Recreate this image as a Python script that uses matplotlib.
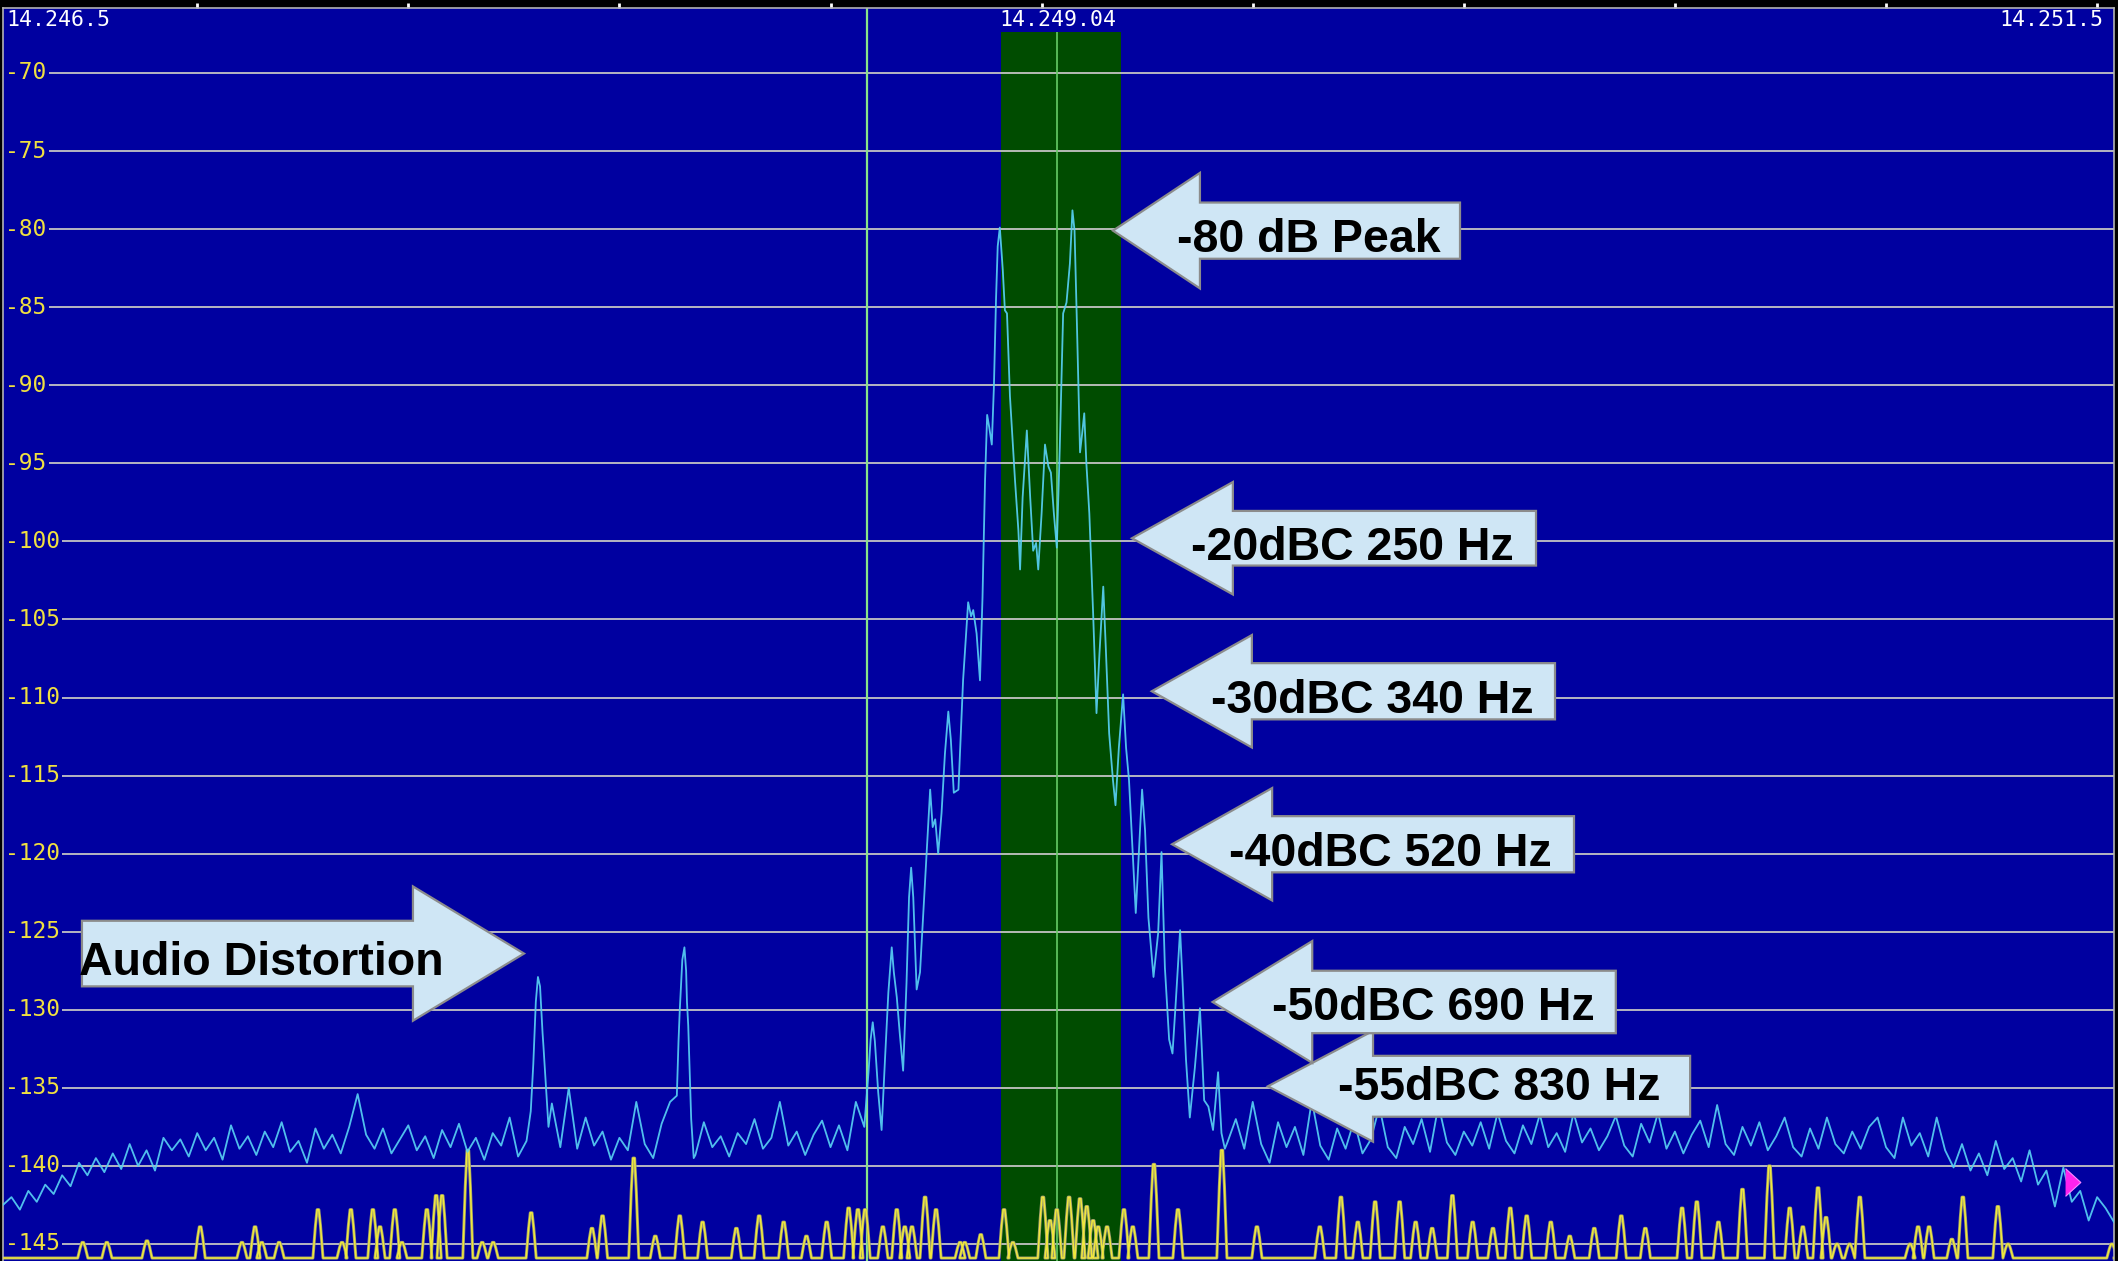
import matplotlib
matplotlib.use("Agg")
import matplotlib.pyplot as plt
from matplotlib.patches import Polygon
import numpy as np

# display span: 14.246.5 .. 14.251.5 kHz, x data is Hz above the left edge
span_hz = 5000
db_top, db_bottom = -65.84, -146.09
grid_db = list(range(-70, -150, -5))
tick_hz = list(range(460, 5000, 500))
edge_labels = ["14.246.5", "14.251.5"]
center_label = "14.249.04"
center_label_hz = 2499

cursor_hz = 2046
band_lo_hz, band_hi_hz = 2364, 2648
band_center_hz = 2496
band_top_db = -67.4
marker_hz, marker_db = 4900, -141.0

# noise floor left of the signal, one value every 20 Hz from 0 Hz
floor_step = 20
left_floor_db = [
    -142.5, -142.0, -142.8, -141.6, -142.3, -141.2, -141.8, -140.6, -141.3, -139.8,
    -140.6, -139.5, -140.4, -139.2, -140.2, -138.6, -140.0, -139.0, -140.3, -138.2,
    -139.0, -138.3, -139.4, -137.9, -139.0, -138.2, -139.6, -137.4, -138.9, -138.1,
    -139.3, -137.8, -138.8, -137.2, -139.1, -138.4, -139.8, -137.6, -138.9, -138.0,
    -139.2, -137.5, -135.4, -138.0, -138.9, -137.6, -139.2, -138.3, -137.4, -139.0,
    -138.1, -139.5, -137.7, -138.8, -137.3, -139.1, -138.2, -139.6, -137.9, -138.7,
    -136.9, -139.4, -138.4, -130.8, -132.3, -136.0, -138.8, -135.0, -138.9, -136.9,
    -138.7, -137.8, -139.6, -138.2, -139.0, -135.9, -138.6, -139.5, -137.3, -135.9,
    -132.0, -129.5, -139.3, -137.2, -138.8, -138.1, -139.4, -137.9, -138.6, -137.0,
    -138.9, -138.2, -135.9, -138.7, -137.8, -139.3, -138.0, -137.1, -138.8, -137.4,
    -139.0, -135.9, -137.5,
]

# noise floor right of the signal, every 20 Hz from 2900 Hz
right_floor_start = 2900
right_floor_db = [
    -138.5, -137.0, -138.9, -135.9, -138.6, -139.8, -137.2, -138.8, -137.5, -139.3,
    -135.8, -138.7, -139.6, -137.6, -138.9, -137.1, -139.2, -138.3, -136.2, -138.8,
    -139.5, -137.5, -138.6, -137.0, -139.1, -136.1, -138.5, -139.3, -137.8, -138.7,
    -137.2, -138.9, -136.6, -138.4, -139.2, -137.4, -138.6, -136.7, -138.8, -137.9,
    -139.1, -136.6, -138.5, -137.6, -139.0, -138.1, -136.8, -138.7, -139.4, -137.3,
    -138.5, -136.6, -138.9, -137.8, -139.2, -138.0, -137.1, -138.8, -136.1, -138.6,
    -139.3, -137.5, -138.7, -137.2, -139.0, -138.1, -136.9, -138.8, -139.4, -137.6,
    -138.9, -136.9, -138.6, -139.2, -137.8, -138.9, -137.5, -136.9, -138.8, -139.5,
    -136.9, -138.7, -137.9, -139.4, -136.9, -139.0, -140.1, -138.6, -140.3, -139.2,
    -140.6, -138.4, -140.2, -139.5, -141.0, -139.0, -141.2, -140.3, -142.6, -140.1,
    -142.3, -141.6, -143.5, -142.0, -142.7, -143.6,
]

# audio distortion spurs
spur_hz = [1250, 1256, 1262, 1267, 1272, 1278, 1285, 1292,
           1596, 1603, 1609, 1614, 1618, 1623, 1630, 1636]
spur_db = [-136.5, -133.5, -129.5, -127.9, -128.5, -131.5, -134.5, -137.5,
           -135.5, -130.0, -126.8, -126.0, -127.5, -131.0, -137.0, -139.5]

# main signal lobe
lobe_hz = [
    2050, 2055, 2060, 2065, 2073, 2081, 2089, 2097, 2105, 2110,
    2117, 2124, 2132, 2140, 2146, 2151, 2156, 2164, 2172, 2184,
    2196, 2202, 2208, 2215, 2223, 2231, 2239, 2245, 2252, 2263,
    2274, 2286, 2293, 2298, 2306, 2314, 2320, 2326, 2331, 2336,
    2342, 2347, 2352, 2356, 2361, 2368, 2373, 2378, 2385, 2397,
    2405, 2409, 2415, 2425, 2433, 2440, 2447, 2452, 2460, 2468,
    2476, 2482, 2489, 2496, 2503, 2511, 2519, 2527, 2533, 2538,
    2543, 2551, 2556, 2561, 2566, 2573, 2582, 2590, 2597, 2606,
    2612, 2620, 2629, 2635, 2643, 2653, 2660, 2667, 2675, 2683,
    2691, 2698, 2705, 2713, 2725, 2736, 2744, 2752, 2762, 2770,
    2778, 2788, 2794, 2802, 2811, 2823, 2835, 2845, 2855, 2866,
    2878, 2886, 2894,
]
lobe_db = [
    -134.0, -131.9, -130.8, -132.0, -135.3, -137.7, -133.2, -128.9, -126.0, -127.6,
    -129.2, -131.5, -133.9, -128.3, -122.8, -120.9, -122.8, -128.7, -127.6, -121.7,
    -115.9, -118.3, -117.8, -120.0, -117.4, -113.6, -110.9, -112.7, -116.1, -115.9,
    -108.9, -103.9, -104.8, -104.4, -105.9, -108.9, -103.6, -96.1, -91.9, -92.7,
    -93.8, -90.1, -84.5, -81.1, -79.9, -82.6, -85.2, -85.4, -90.7, -96.1,
    -99.3, -101.8, -97.2, -92.9, -97.2, -100.6, -100.1, -101.8, -98.2, -93.8,
    -95.2, -95.6, -98.2, -100.4, -94.0, -85.4, -84.7, -82.2, -78.8, -80.1,
    -85.4, -94.3, -93.1, -91.8, -95.0, -98.2, -104.6, -111.0, -107.2, -102.9,
    -106.8, -112.3, -115.3, -116.9, -113.2, -109.8, -113.2, -115.3, -119.6, -123.8,
    -119.6, -115.9, -118.5, -124.1, -127.9, -125.1, -119.9, -127.3, -131.9, -132.8,
    -129.4, -124.9, -128.3, -133.2, -136.9, -133.7, -129.9, -135.8, -136.2, -137.7,
    -134.0, -137.9, -138.9,
]

# yellow trace: peak positions and heights above its floor
yellow_base_db = -145.9
yellow_peak_hz = [
    189, 246, 341, 467, 566, 597, 613, 654, 746, 803,
    824, 876, 893, 928, 945, 1004, 1026, 1040, 1101, 1135,
    1161, 1251, 1395, 1420, 1494, 1545, 1603, 1657, 1737, 1791,
    1849, 1903, 1951, 2003, 2025, 2042, 2084, 2117, 2136, 2153,
    2184, 2210, 2267, 2278, 2316, 2371, 2392, 2463, 2480, 2496,
    2525, 2551, 2567, 2582, 2594, 2615, 2655, 2676, 2726, 2783,
    2887, 2970, 3119, 3169, 3209, 3250, 3308, 3346, 3385, 3433,
    3481, 3529, 3570, 3609, 3666, 3711, 3769, 3833, 3890, 3977,
    4012, 4063, 4120, 4184, 4232, 4263, 4299, 4318, 4344, 4374,
    4398, 4517, 4536, 4562, 4616, 4642, 4725, 4749, 4995,
]
yellow_peak_db = [
    -144.9, -144.9, -144.8, -143.9, -144.9, -143.9, -144.9, -144.9, -142.8, -144.9,
    -142.8, -142.8, -143.9, -142.8, -144.9, -142.8, -141.9, -141.9, -139.0, -144.9,
    -144.9, -143.0, -144.0, -143.2, -139.5, -144.5, -143.2, -143.6, -144.0, -143.2,
    -143.6, -144.5, -143.6, -142.7, -142.8, -142.8, -143.9, -142.8, -143.9, -143.9,
    -142.0, -142.8, -144.9, -144.9, -144.4, -142.8, -144.9, -142.0, -143.5, -142.8,
    -142.0, -142.1, -142.6, -143.5, -143.9, -143.9, -142.8, -143.9, -139.9, -142.8,
    -139.0, -143.9, -143.9, -142.0, -143.6, -142.3, -142.3, -143.6, -144.0, -141.9,
    -143.6, -144.0, -142.7, -143.2, -143.6, -144.5, -144.0, -143.2, -144.0, -142.7,
    -142.3, -143.6, -141.5, -140.0, -142.7, -143.9, -141.4, -143.3, -145.0, -145.0,
    -142.0, -145.0, -143.9, -143.9, -144.7, -142.0, -142.6, -145.0, -145.0,
]

# callout arrows: text, tip (Hz, dB), head base Hz, tail Hz, head/body half height, text pos
callouts = [
    ("Audio Distortion", 1234, -126.4, 971, 187, 4.3, 2.1, 611, -127.8),
    ("-80 dB Peak", 2629, -80.1, 2835, 3451, 3.7, 1.8, 3093, -81.45),
    ("-20dBC 250 Hz", 2674, -99.8, 2913, 3631, 3.6, 1.75, 3195, -101.2),
    ("-30dBC 340 Hz", 2721, -109.6, 2958, 3676, 3.6, 1.8, 3242, -111.0),
    ("-40dBC 520 Hz", 2769, -119.4, 3006, 3721, 3.6, 1.8, 3287, -120.8),
    ("-55dBC 830 Hz", 2996, -134.9, 3245, 3996, 3.55, 1.95, 3543, -135.75),
    ("-50dBC 690 Hz", 2865, -129.5, 3101, 3820, 3.9, 2.0, 3387, -130.65),
]

bg_blue = "#0000a0"

fig = plt.figure(figsize=(21.18, 12.61), dpi=100, facecolor="black")
ax = fig.add_axes([3 / 2118, 0, 2111 / 2118, 1253 / 1261])
ax.set_facecolor(bg_blue)
ax.set_xlim(0, span_hz)
ax.set_ylim(db_bottom, db_top)

for side in ("left", "right", "top"):
    ax.spines[side].set_color("#b4b4b4")
    ax.spines[side].set_linewidth(1.2)
ax.spines["bottom"].set_visible(False)
ax.xaxis.tick_top()
ax.set_xticks(tick_hz)
ax.tick_params(axis="x", direction="out", length=3.5, width=2, color="white",
               labeltop=False, labelbottom=False)
ax.set_yticks([])

# green pass band and cursors
ax.fill_between([band_lo_hz, band_hi_hz], db_bottom, band_top_db,
                color="#004c00", lw=0, zorder=0.5)
ax.vlines(band_center_hz, db_bottom, band_top_db, color="#66cc66", lw=1.2, zorder=1.5)
ax.axvline(cursor_hz, color="#88e488", lw=1.6, zorder=1.5)

# horizontal grid and dB labels
for g in grid_db:
    ax.axhline(g, color="#c4c4c4", lw=1.3, zorder=1)
    ax.text(5, g, str(g), color="#f0e040", fontsize=16.5, family="DejaVu Sans Mono",
            ha="left", va="center", zorder=2,
            bbox=dict(boxstyle="square,pad=0.1", fc=bg_blue, ec="none"))

# frequency labels along the top
ax.text(9, -65.95, edge_labels[0], color="white", fontsize=15.5,
        family="DejaVu Sans Mono", ha="left", va="top", zorder=2)
ax.text(4976, -65.95, edge_labels[1], color="white", fontsize=15.5,
        family="DejaVu Sans Mono", ha="right", va="top", zorder=2)
ax.text(center_label_hz, -65.95, center_label, color="white", fontsize=15.5,
        family="DejaVu Sans Mono", ha="center", va="top", zorder=2,
        bbox=dict(boxstyle="square,pad=0.05", fc=bg_blue, ec="none"))

# yellow trace
yx, yy = [0], [yellow_base_db]
for c, top in zip(yellow_peak_hz, yellow_peak_db):
    yx += [c - 12, c - 6, c - 2, c + 2, c + 6, c + 12]
    yy += [yellow_base_db, (yellow_base_db + 2 * top) / 3, top, top,
           (yellow_base_db + 2 * top) / 3, yellow_base_db]
yx.append(span_hz)
yy.append(yellow_base_db)
ax.plot(yx, yy, color="#9a9a70", lw=2.2, zorder=2.5)
ax.plot(yx, yy, color="#f0e83c", lw=1.1, zorder=2.6)

# cyan spectrum trace
left_hz = np.arange(len(left_floor_db)) * floor_step
right_hz = right_floor_start + np.arange(len(right_floor_db)) * floor_step
hz = np.concatenate([left_hz, spur_hz, lobe_hz, right_hz])
db = np.concatenate([left_floor_db, spur_db, lobe_db, right_floor_db])
order = np.argsort(hz, kind="stable")
ax.plot(hz[order], db[order], color="#58d0f4", lw=1.3, alpha=0.92, zorder=3)

# magenta level marker on the right
ax.plot(marker_hz, marker_db, marker=[(-0.5, -1), (0.6, 0), (-0.5, 1)],
        ms=20, color="#ff22ee", mec="#ff88ff", mew=0.8, zorder=4, clip_on=False)

# callout arrows
for text, tip, ty, head, tail, hh, bh, tx, tyb in callouts:
    pts = [(tip, ty), (head, ty + hh), (head, ty + bh), (tail, ty + bh),
           (tail, ty - bh), (head, ty - bh), (head, ty - hh)]
    ax.add_patch(Polygon(pts, closed=True, fc="#cfe6f5", ec="#8c8c8c",
                         lw=1.6, zorder=5))
    ax.text(tx, tyb, text, fontsize=33.5, fontweight="bold", family="Liberation Sans",
            color="black", ha="center", va="baseline", zorder=6)

fig.savefig("out.png", dpi=100, facecolor="black")
